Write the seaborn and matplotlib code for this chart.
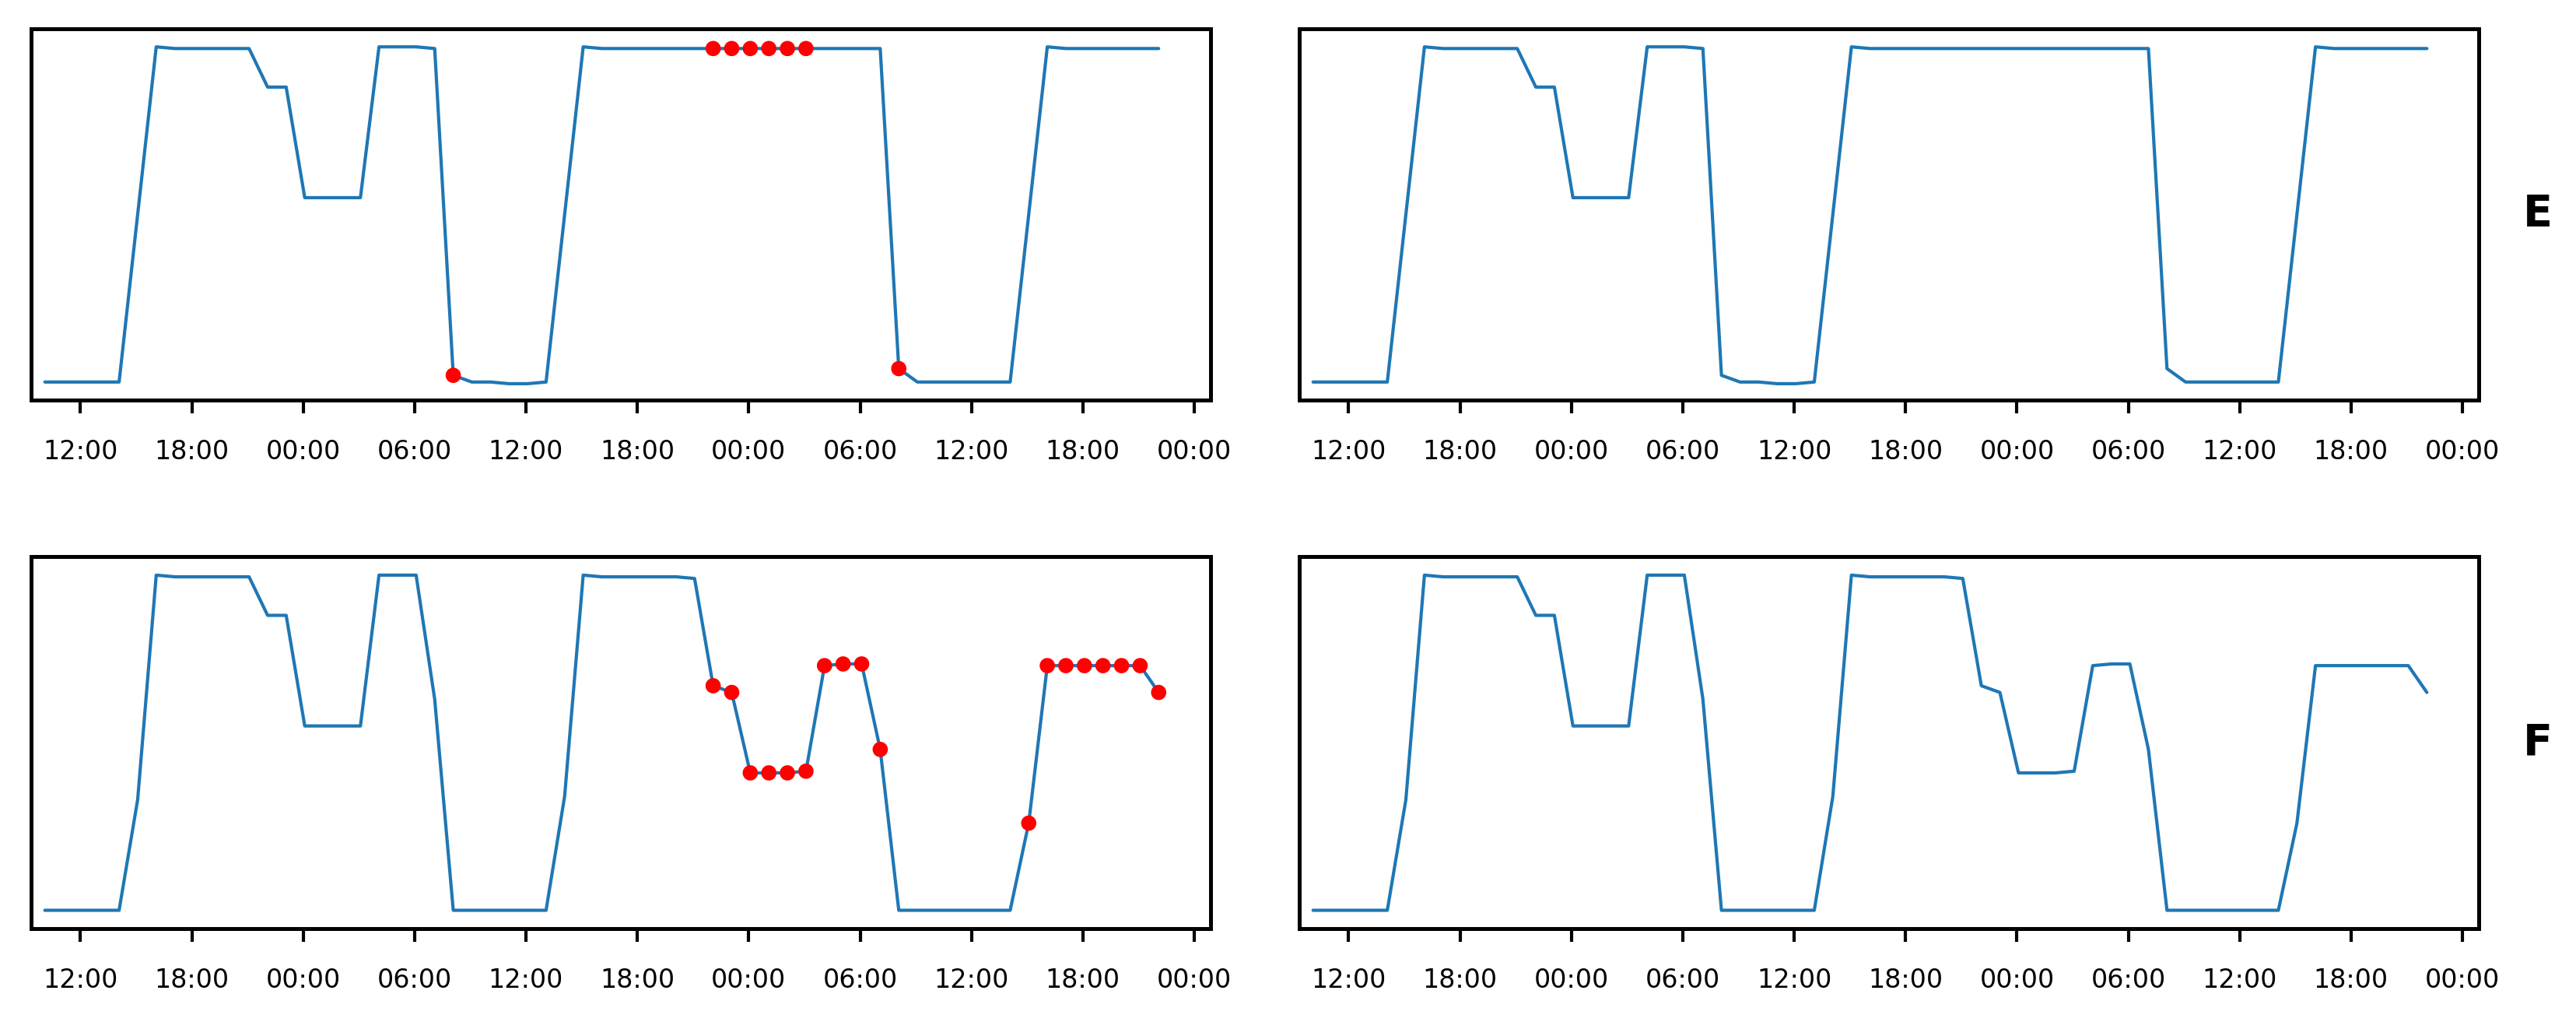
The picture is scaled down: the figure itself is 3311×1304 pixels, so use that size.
import numpy as np
import pandas as pd
import matplotlib
matplotlib.use("Agg")
import matplotlib.pyplot as plt
import matplotlib.dates as mdates
import seaborn as sns

sns.set_style("ticks")
plt.rcParams['font.family'] = ['DejaVu Sans']

times = pd.date_range("2021-01-01 10:05", periods=61, freq="h")
series_E = [0,0,0,0,0,0.5,1,0.995,0.995,0.995,0.995,0.995,0.88,0.88,0.55,0.55,0.55,0.55,1,1,1,0.995,0.02,0,0,-0.005,-0.005,0,
            0.5,1,0.995,0.995,0.995,0.995,0.995,0.995,0.995,0.995,0.995,0.995,0.995,0.995,0.995,0.995,0.995,0.995,0.04,0,0,0,0,0,0,0.5,1,0.995,0.995,0.995,0.995,0.995,0.995]
series_F = [0,0,0,0,0,0.33,1,0.995,0.995,0.995,0.995,0.995,0.88,0.88,0.55,0.55,0.55,0.55,1,1,1,0.63,0,0,0,0,0,0,
            0.34,1,0.995,0.995,0.995,0.995,0.995,0.99,0.67,0.65,0.41,0.41,0.41,0.415,0.73,0.735,0.735,0.48,0,0,0,0,0,0,0,
            0.26,0.73,0.73,0.73,0.73,0.73,0.73,0.65]
marked_E = [22,36,37,38,39,40,41,46]
marked_F = list(range(36,46)) + list(range(53,61))
row_labels = ["E", "F"]

fig, axes = plt.subplots(2, 2, figsize=(16.56, 6.52), dpi=200)
fig.subplots_adjust(left=0.012, right=0.962, top=0.972, bottom=0.085, wspace=0.075, hspace=0.42)
rows = [(series_E, marked_E), (series_F, marked_F)]
for r, (vals, marks) in enumerate(rows):
    df = pd.DataFrame({"t": times, "v": vals})
    for c in range(2):
        ax = axes[r, c]
        sns.lineplot(data=df, x="t", y="v", ax=ax, color="#1f77b4", linewidth=1.5)
        if c == 0:
            sns.scatterplot(data=df.iloc[marks], x="t", y="v", ax=ax, color="red", s=50,
                            edgecolor="none", zorder=3)
        ax.set_xlim(pd.Timestamp("2021-01-01 09:20"), pd.Timestamp("2021-01-04 00:53"))
        ax.set_ylim(-0.055, 1.055)
        ax.set_yticks([])
        ax.set_xlabel(""); ax.set_ylabel("")
        ax.xaxis.set_major_locator(mdates.HourLocator(byhour=[0, 6, 12, 18]))
        ax.xaxis.set_major_formatter(mdates.DateFormatter("%H:%M"))
        ax.tick_params(axis="x", labelsize=12, length=6, width=1.5, pad=12, color="black", labelcolor="black")
        for s in ax.spines.values():
            s.set_linewidth(1.8)
            s.set_color("black")
    fig.text(0.985, 0.5 * (axes[r, 1].get_position().y0 + axes[r, 1].get_position().y1),
             row_labels[r], fontsize=20, fontweight="bold", ha="center", va="center", color="black")

fig.savefig("out.png", dpi=200)
